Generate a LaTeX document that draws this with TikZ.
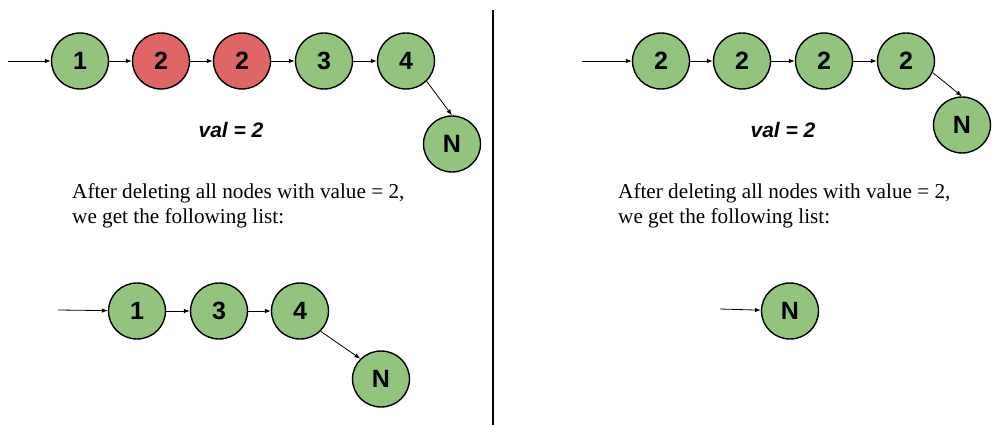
\documentclass[tikz,border=0pt]{standalone}
\usepackage{fontspec}
\setmainfont{Liberation Serif}
\setsansfont{Liberation Sans}
\usetikzlibrary{arrows.meta}
\definecolor{gfill}{HTML}{93C47D}
\definecolor{rfill}{HTML}{E06666}
\tikzset{
  lnode/.style={ellipse, draw=black, line width=1.4pt, minimum width=57pt, minimum height=56pt, inner sep=0pt,
     font=\sffamily\bfseries\fontsize{25}{25}\selectfont, fill=gfill},
  rnode/.style={lnode, fill=rfill},
  link/.style={line width=0.8pt, -{Latex[length=6pt,width=4.5pt]}},
  caption/.style={align=left, anchor=north west, inner sep=0pt, font=\fontsize{21.2}{25}\selectfont},
  valtext/.style={font=\sffamily\bfseries\itshape\fontsize{21}{21}\selectfont}
}
\usetikzlibrary{shapes.geometric}
\begin{document}
\begin{tikzpicture}[x=1pt,y=-1pt]
\useasboundingbox (0,0) rectangle (1007,425);
% divider
\draw[line width=1.6pt] (493,10) -- (493,425);
% top-left list
\coordinate (s1) at (8,61);
\node[lnode] (a1) at (80,61) {1};
\node[rnode] (a2) at (161,61) {2};
\node[rnode] (a3) at (242,61) {2};
\node[lnode] (a4) at (324,61) {3};
\node[lnode] (a5) at (406,61) {4};
\node[lnode] (aN) at (452,144) {N};
\draw[link] (s1) -- (a1);
\draw[link] (a1) -- (a2);
\draw[link] (a2) -- (a3);
\draw[link] (a3) -- (a4);
\draw[link] (a4) -- (a5);
\draw[link] (a5.south east) -- (aN.north);
\node[valtext] (v1) at (231,130) {val = 2};
\node[caption] (c1) at (72,183) {After deleting all nodes with value = 2,\\we get the following list:};
% bottom-left list
\coordinate (s2) at (58,310);
\node[lnode] (b1) at (137,311) {1};
\node[lnode] (b2) at (219,311) {3};
\node[lnode] (b3) at (300,311) {4};
\node[lnode] (bN) at (381,379) {N};
\draw[link] (s2) -- (b1);
\draw[link] (b1) -- (b2);
\draw[link] (b2) -- (b3);
\draw[link] (b3.south east) -- (bN.north west);
% top-right list
\coordinate (s3) at (582,61);
\node[lnode] (d1) at (661,61) {2};
\node[lnode] (d2) at (742,61) {2};
\node[lnode] (d3) at (824,61) {2};
\node[lnode] (d4) at (906,61) {2};
\node[lnode] (dN) at (962,125) {N};
\draw[link] (s3) -- (d1);
\draw[link] (d1) -- (d2);
\draw[link] (d2) -- (d3);
\draw[link] (d3) -- (d4);
\draw[link] (d4.east) ++(-2,12) coordinate (d4o) (d4o) -- (dN.north);
\node[valtext] (v2) at (783,130) {val = 2};
\node[caption] (c2) at (618,183) {After deleting all nodes with value = 2,\\we get the following list:};
% bottom-right
\coordinate (s4) at (720,309);
\node[lnode] (eN) at (790,311) {N};
\draw[link] (s4) -- (eN);
\end{tikzpicture}
\end{document}
